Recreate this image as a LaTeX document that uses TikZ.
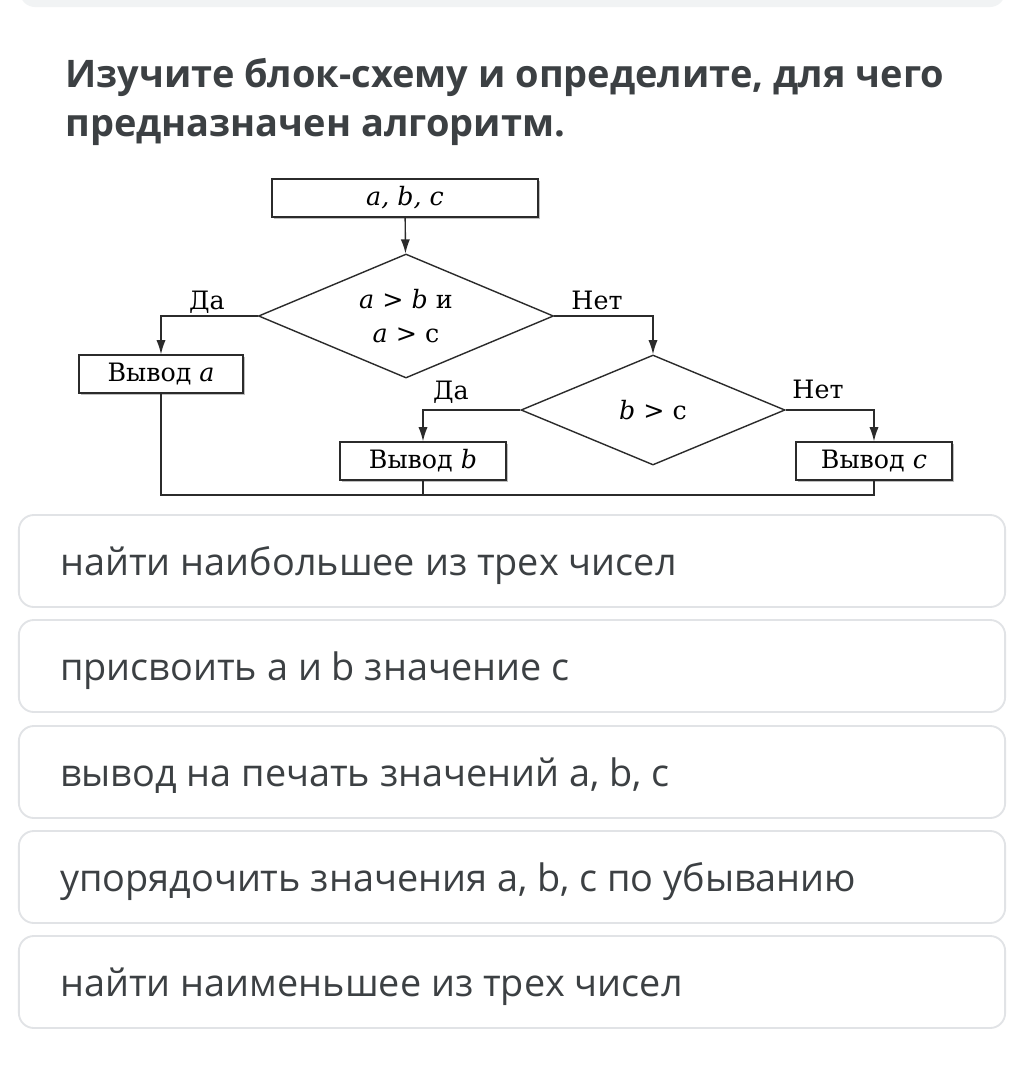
\documentclass[tikz,border=0pt]{standalone}
\usepackage{fontspec}
\setmainfont{Open Sans}
\newfontfamily\flowfont{DejaVu Serif}
\usetikzlibrary{shapes.geometric,arrows.meta,positioning,shadows}

\definecolor{titlegray}{HTML}{3C4043}
\definecolor{framegray}{HTML}{E1E3E6}
\definecolor{bargray}{HTML}{F1F3F4}
\definecolor{flowline}{HTML}{2B2B2B}

\begin{document}
\begin{tikzpicture}[
        x=0.025cm, y=-0.025cm,
        block/.style={rectangle, draw=flowline, line width=1pt, fill=white, minimum height=0.95cm, inner sep=0pt, font=\flowfont\fontsize{18}{20}\selectfont, drop shadow={shadow xshift=1.4pt, shadow yshift=-1.4pt, fill=black!45, opacity=0.55}},
        decision/.style={diamond, aspect=2.4, draw=flowline, line width=1pt, fill=white, inner sep=0pt, align=center, font=\flowfont\fontsize{18}{24}\selectfont},
        lbl/.style={anchor=base, inner sep=0pt, font=\flowfont\fontsize{18}{20}\selectfont},
        arrow/.style={-{Latex[length=10pt,width=6.5pt]}, line width=1pt, draw=flowline},
        joinline/.style={line width=1pt, draw=flowline},
        answer/.style={rectangle, rounded corners=0.375cm, draw=framegray, line width=1.3pt, minimum width=24.65cm, minimum height=2.3cm},
        answertext/.style={anchor=base west, inner sep=0pt, text=titlegray, font=\fontsize{26.9}{32}\selectfont},
        title/.style={anchor=base west, inner sep=0pt, text=titlegray, font=\bfseries\fontsize{27}{33}\selectfont}
    ]

    \useasboundingbox[fill=white] (0,0) rectangle (1022,1073);

    % Top bar
    \fill[bargray, rounded corners=0.375cm] (20,-30) rectangle (1005,7);

    % Question
    \node[title] (title1) at (65,87) {Изучите блок-схему и определите, для чего};
    \node[title] (title2) at (65,136) {предназначен алгоритм.};

    % Flowchart
    \node[block, minimum width=6.65cm] (input) at (405,198) {\itshape a, b, c};
    \node[decision, minimum width=7.375cm, minimum height=3.1cm] (cmp1) at (406,316) {{\itshape a} > {\itshape b} и\\{\itshape a} > c};
    \node[decision, minimum width=6.6cm, minimum height=2.75cm] (cmp2) at (653,410) {{\itshape b} > c};
    \node[block, minimum width=4.1cm] (outa) at (161,374) {Вывод {\itshape a}};
    \node[block, minimum width=4.15cm] (outb) at (423,461) {Вывод {\itshape b}};
    \node[block, minimum width=3.9cm] (outc) at (874,461) {Вывод {\itshape c}};

    % Branch labels
    \node[lbl] (yes1) at (207,309) {Да};
    \node[lbl] (no1) at (597,309) {Нет};
    \node[lbl] (yes2) at (451,399) {Да};
    \node[lbl] (no2) at (818,398) {Нет};

    % Arrows
    \draw[arrow] (input) -- (cmp1);
    \draw[arrow] (cmp1.west) -| (outa.north);
    \draw[arrow] (cmp1.east) -| (cmp2.north);
    \draw[arrow] (cmp2.west) -| (outb.north);
    \draw[arrow] (cmp2.east) -| (outc.north);

    % Joining line
    \coordinate (joinr) at (874,495);
    \draw[joinline] (outa.south) |- (joinr) -- (outc.south);
    \draw[joinline] (outb.south) -- (outb.south |- joinr);

    % Answers
    \node[answer] (ans1) at (512,561) {};
    \node[answer] (ans2) at (512,666) {};
    \node[answer] (ans3) at (512,772) {};
    \node[answer] (ans4) at (512,877) {};
    \node[answer] (ans5) at (512,982) {};
    \node[answertext] (txt1) at (60,575) {найти наибольшее из трех чисел};
    \node[answertext] (txt2) at (60,680) {присвоить a и b значение c};
    \node[answertext] (txt3) at (60,786) {вывод на печать значений a, b, c};
    \node[answertext] (txt4) at (60,891) {упорядочить значения a, b, c по убыванию};
    \node[answertext] (txt5) at (60,996) {найти наименьшее из трех чисел};

\end{tikzpicture}
\end{document}
